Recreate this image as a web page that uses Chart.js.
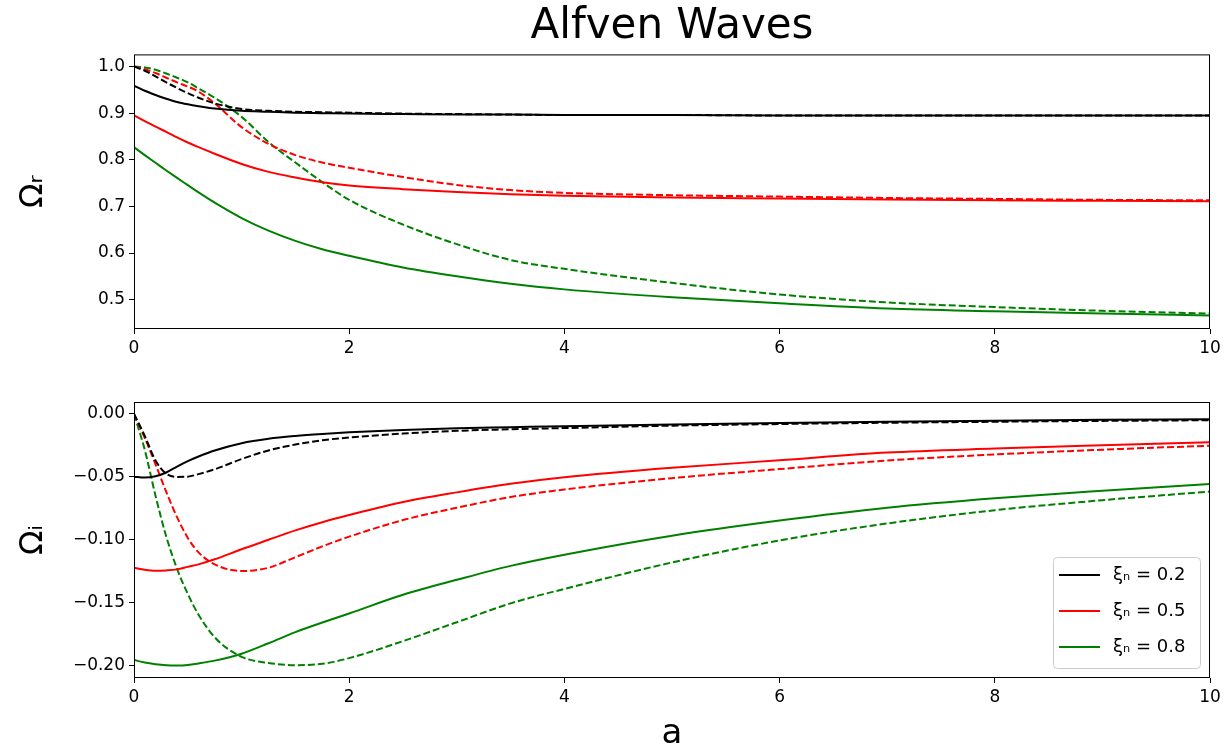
<!DOCTYPE html>
<html>
<head>
<meta charset="utf-8">
<script src="https://cdn.jsdelivr.net/npm/chart.js@4.4.0/dist/chart.umd.min.js"></script>
<style>
  html, body { margin: 0; padding: 0; background: #fff; overflow: hidden; }
  #wrap { position: relative; width: 1230px; height: 751px; overflow: hidden; }
  .box { position: absolute; left: 0; width: 1230px; }
  #topBox { top: 0; height: 360px; }
  #botBox { top: 360px; height: 400px; }
</style>
</head>
<body>
<div id="wrap">
  <div class="box" id="topBox"><canvas id="top"></canvas></div>
  <div class="box" id="botBox"><canvas id="bot"></canvas></div>
</div>
<script>
// valeurs de a (axe x commun)
const aGrid = [0, 0.1, 0.2, 0.3, 0.4, 0.5, 0.6, 0.75, 1, 1.25, 1.5, 1.75, 2, 2.5, 3, 3.5, 4, 5, 6, 7, 8, 9, 10];

const xiLabels = ['ξₙ = 0.2', 'ξₙ = 0.5', 'ξₙ = 0.8'];
const colors = ['#000000', '#ff0000', '#008000'];

// Omega_r, trait plein / pointille
const re02 = [0.959, 0.948, 0.939, 0.931, 0.924, 0.919, 0.915, 0.910, 0.905, 0.903, 0.901, 0.900, 0.899, 0.898, 0.897, 0.897, 0.896, 0.896, 0.895, 0.895, 0.895, 0.895, 0.895];
const re02d = [1.0, 0.991, 0.979, 0.966, 0.954, 0.943, 0.933, 0.921, 0.909, 0.905, 0.903, 0.902, 0.901, 0.899, 0.898, 0.897, 0.896, 0.896, 0.895, 0.895, 0.895, 0.895, 0.895];
const re05 = [0.895, 0.883, 0.871, 0.860, 0.848, 0.837, 0.827, 0.813, 0.791, 0.774, 0.762, 0.752, 0.745, 0.737, 0.731, 0.726, 0.723, 0.719, 0.717, 0.715, 0.713, 0.712, 0.711];
const re05d = [1.0, 0.994, 0.986, 0.976, 0.966, 0.957, 0.946, 0.921, 0.870, 0.834, 0.810, 0.794, 0.783, 0.763, 0.746, 0.735, 0.729, 0.724, 0.721, 0.718, 0.716, 0.714, 0.713];
const re08 = [0.827, 0.810, 0.7935, 0.777, 0.761, 0.7455, 0.730, 0.708, 0.675, 0.648, 0.626, 0.608, 0.594, 0.569, 0.550, 0.534, 0.522, 0.505, 0.492, 0.481, 0.475, 0.470, 0.466];
const re08d = [1.0, 0.998, 0.993, 0.985, 0.976, 0.966, 0.953, 0.933, 0.892, 0.838, 0.794, 0.752, 0.714, 0.661, 0.619, 0.585, 0.566, 0.536, 0.511, 0.494, 0.484, 0.476, 0.470];

// Omega_i, trait plein / pointille
const im02 = [-0.0498, -0.0505, -0.0495, -0.0465, -0.0418, -0.0375, -0.0338, -0.0290, -0.0232, -0.0197, -0.0175, -0.0159, -0.0146, -0.0127, -0.0113, -0.0105, -0.0097, -0.0083, -0.0071, -0.0061, -0.0053, -0.0047, -0.0042];
const im02d = [0, -0.0175, -0.037, -0.0475, -0.0500, -0.0498, -0.0478, -0.0440, -0.0358, -0.0290, -0.0243, -0.0209, -0.0187, -0.0156, -0.0134, -0.0122, -0.0112, -0.0093, -0.0080, -0.0070, -0.0062, -0.0055, -0.0050];
const im05 = [-0.1222, -0.1238, -0.1246, -0.1243, -0.1235, -0.1215, -0.1195, -0.1155, -0.1075, -0.1000, -0.0925, -0.0860, -0.0803, -0.0700, -0.0623, -0.0555, -0.0503, -0.0428, -0.0368, -0.0307, -0.0275, -0.0249, -0.0225];
const im05d = [0, -0.019, -0.040, -0.062, -0.082, -0.0985, -0.110, -0.1195, -0.1248, -0.1222, -0.1138, -0.1052, -0.0975, -0.0843, -0.0745, -0.0660, -0.0600, -0.0510, -0.0438, -0.0370, -0.0322, -0.0284, -0.0252];
const im08 = [-0.1955, -0.1975, -0.1988, -0.1996, -0.1998, -0.1994, -0.1982, -0.1960, -0.1905, -0.1822, -0.1733, -0.1657, -0.1585, -0.1437, -0.1318, -0.1207, -0.1118, -0.0967, -0.0847, -0.0745, -0.0670, -0.0610, -0.0556];
const im08d = [0, -0.0285, -0.065, -0.0975, -0.123, -0.143, -0.1595, -0.1775, -0.1930, -0.1978, -0.1996, -0.1985, -0.1940, -0.1805, -0.1655, -0.1505, -0.1390, -0.1180, -0.1005, -0.0870, -0.0765, -0.0685, -0.0617];

const FONT = 'DejaVu Sans';

function pts(vals) {
  return aGrid.map((a, i) => ({ x: a, y: vals[i] }));
}

function line(vals, idx, dashed) {
  return {
    data: pts(vals),
    borderColor: colors[idx],
    borderWidth: 2,
    borderDash: dashed ? [7, 3] : [],
    pointRadius: 0,
    cubicInterpolationMode: 'monotone',
    fill: false,
    legendText: dashed ? null : xiLabels[idx]
  };
}

// cadre noir autour de la zone de trace (comme matplotlib)
const frame = {
  id: 'frame',
  afterDatasetsDraw(chart) {
    const { ctx, chartArea: c } = chart;
    ctx.save();
    ctx.strokeStyle = '#000';
    ctx.lineWidth = 1;
    ctx.strokeRect(c.left + 0.5, c.top + 0.5, c.right - c.left - 1, c.bottom - c.top - 1);
    ctx.restore();
  }
};

// legende dans le coin en bas a droite
const boxLegend = {
  id: 'boxLegend',
  afterDraw(chart) {
    const items = chart.data.datasets.filter(d => d.legendText);
    if (!items.length) return;
    const { ctx, chartArea: c } = chart;
    const w = 147, h = 111;
    const x0 = c.right - 10 - w, y0 = c.bottom - 10 - h;
    ctx.save();
    ctx.beginPath();
    ctx.roundRect(x0 + 0.5, y0 + 0.5, w, h, 4);
    ctx.fillStyle = 'rgba(255,255,255,0.8)';
    ctx.fill();
    ctx.strokeStyle = '#cccccc';
    ctx.lineWidth = 1;
    ctx.stroke();
    items.forEach((d, i) => {
      const y = y0 + 18 + i * 36;
      ctx.beginPath();
      ctx.moveTo(x0 + 6, y);
      ctx.lineTo(x0 + 47, y);
      ctx.strokeStyle = d.borderColor;
      ctx.lineWidth = 2;
      ctx.stroke();
      ctx.fillStyle = '#000';
      ctx.font = '18px "' + FONT + '"';
      ctx.textBaseline = 'middle';
      ctx.fillText(d.legendText, x0 + 60, y);
    });
    ctx.restore();
  }
};

const tickFont = { family: FONT, size: 17 };

function xAxis(height, withTitle) {
  return {
    type: 'linear',
    min: 0,
    max: 10,
    afterFit: s => { s.height = height; },
    ticks: { stepSize: 2, color: '#000', font: tickFont, padding: 4, maxRotation: 0 },
    grid: { drawOnChartArea: false, drawTicks: true, tickLength: 5, color: '#000' },
    border: { display: false },
    title: {
      display: withTitle,
      text: 'a',
      color: '#000',
      font: { family: FONT, size: 34 },
      padding: { top: 0, bottom: 5 }
    }
  };
}

function yAxis(min, max, titleText, digits) {
  return {
    min: min,
    max: max,
    afterFit: s => { s.width = 134; },
    ticks: {
      stepSize: digits === 1 ? 0.1 : 0.05,
      includeBounds: false,
      color: '#000',
      font: tickFont,
      padding: 4,
      callback: v => v.toFixed(digits).replace('-', '−')
    },
    grid: { drawOnChartArea: false, drawTicks: true, tickLength: 5, color: '#000' },
    border: { display: false },
    title: {
      display: true,
      text: titleText,
      color: '#000',
      font: { family: FONT, size: 32 },
      padding: { top: 14, bottom: 0 }
    }
  };
}

new Chart(document.getElementById('top'), {
  type: 'line',
  data: {
    datasets: [
      line(re02, 0, false), line(re02d, 0, true),
      line(re05, 1, false), line(re05d, 1, true),
      line(re08, 2, false), line(re08d, 2, true)
    ]
  },
  options: {
    responsive: true,
    maintainAspectRatio: false,
    animation: false,
    layout: { padding: { left: 0, right: 20, top: 0, bottom: 0 } },
    plugins: {
      legend: { display: false },
      tooltip: { enabled: false },
      title: {
        display: true,
        text: 'Alfven Waves',
        fullSize: false,
        color: '#000',
        font: { family: FONT, size: 42, weight: 'normal' },
        padding: { top: 2, bottom: 2 }
      }
    },
    scales: {
      x: xAxis(31, false),
      y: yAxis(0.437, 1.026, 'Ωᵣ', 1)
    }
  },
  plugins: [frame]
});

new Chart(document.getElementById('bot'), {
  type: 'line',
  data: {
    datasets: [
      line(im02, 0, false), line(im02d, 0, true),
      line(im05, 1, false), line(im05d, 1, true),
      line(im08, 2, false), line(im08d, 2, true)
    ]
  },
  options: {
    responsive: true,
    maintainAspectRatio: false,
    animation: false,
    layout: { padding: { left: 0, right: 20, top: 42, bottom: 0 } },
    plugins: {
      legend: { display: false },
      tooltip: { enabled: false }
    },
    scales: {
      x: xAxis(82, true),
      y: yAxis(-0.2098, 0.0095, 'Ωᵢ', 2)
    }
  },
  plugins: [frame, boxLegend]
});
</script>
</body>
</html>
